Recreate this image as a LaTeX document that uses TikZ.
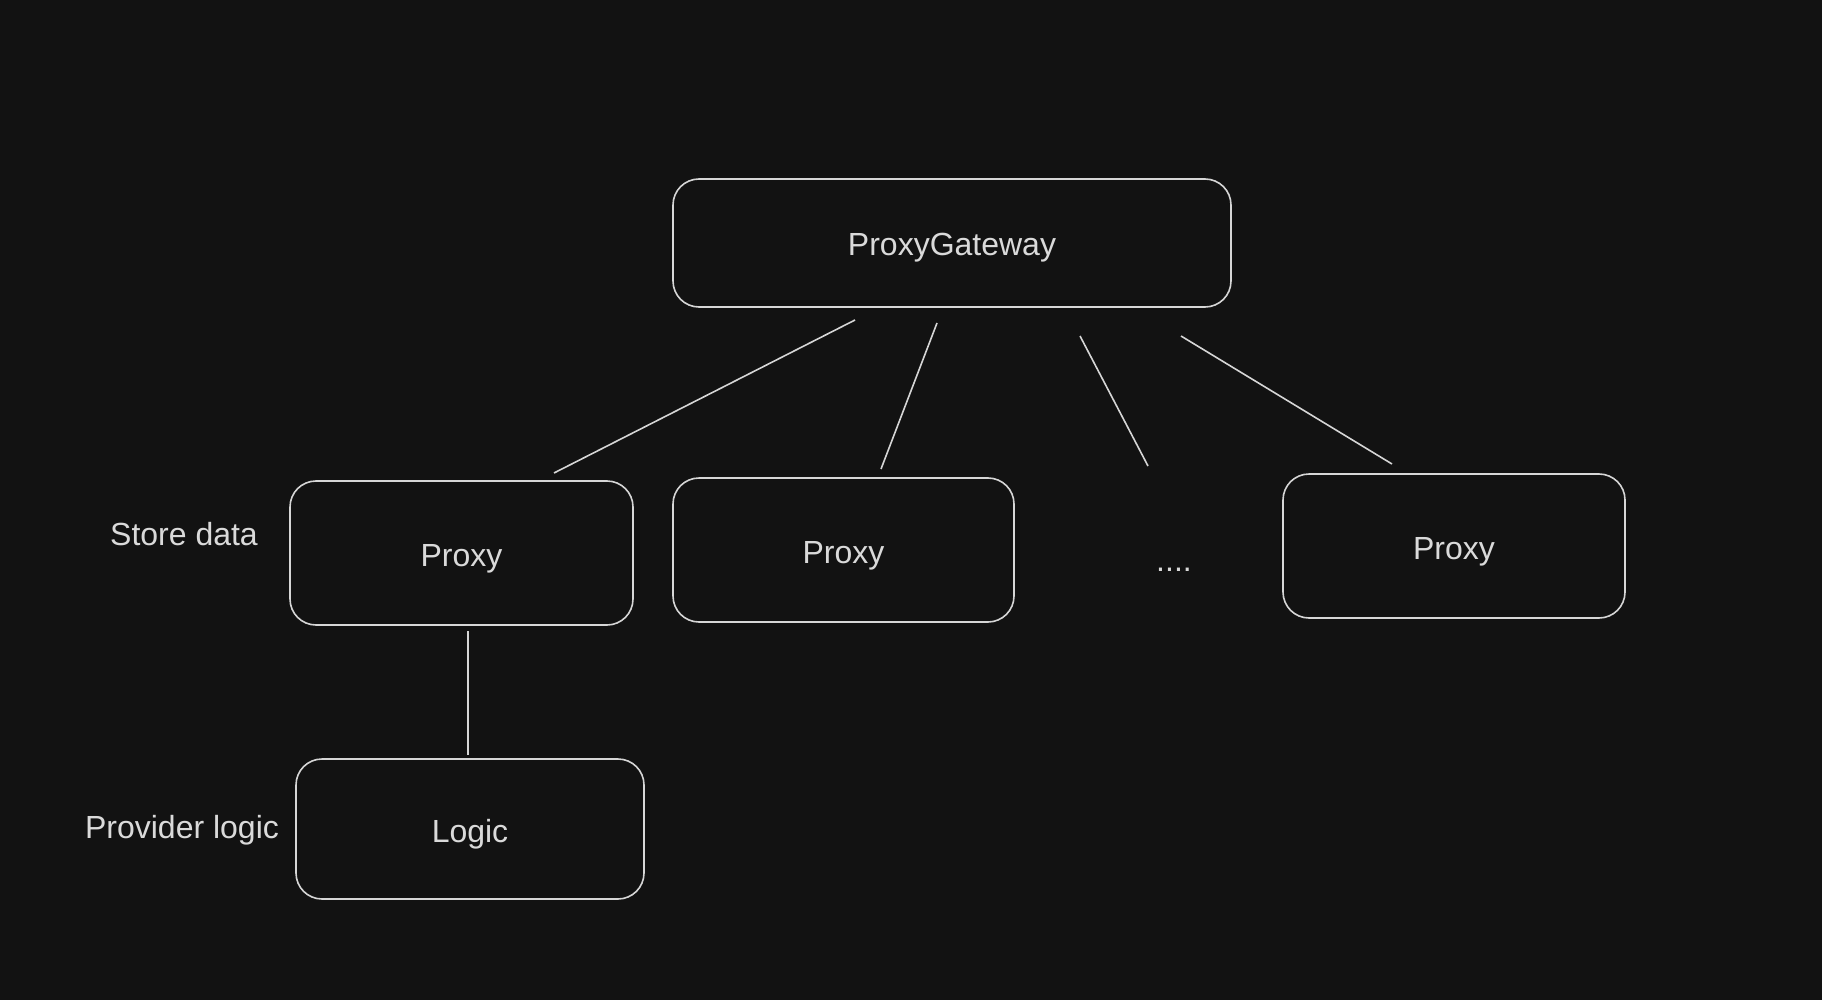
\documentclass[tikz,border=0pt]{standalone}
\usepackage{fontspec}
\setmainfont{Liberation Sans}
\definecolor{bg}{HTML}{121212}
\definecolor{fg}{HTML}{D6D6D6}
\definecolor{txt}{HTML}{DADADA}
\begin{document}
\begin{tikzpicture}[x=1pt,y=-1pt,
  box/.style={draw=fg, line width=1.6pt, rounded corners=26pt, minimum width=#1, inner sep=0pt, text=txt, font=\fontsize{32}{38}\selectfont, text height=29pt, text depth=3pt},
  lbl/.style={text=txt, font=\fontsize{32}{38}\selectfont, inner sep=0pt},
  conn/.style={draw=fg, line width=1.6pt}]
\fill[bg] (0,0) rectangle (1822,1000);
\useasboundingbox (0,0) rectangle (1822,1000);
\node[box=558pt, minimum height=128pt] (gw) at (952,243) {ProxyGateway};
\node[box=343pt, minimum height=144pt] (p1) at (461.5,553) {Proxy};
\node[box=341pt, minimum height=144pt] (p2) at (843.5,550) {Proxy};
\node[box=342pt, minimum height=144pt] (p3) at (1454,546) {Proxy};
\node[box=348pt, minimum height=140pt] (logic) at (470,829) {Logic};
\node[lbl] (dots) at (1174,570) {....};
\node[lbl] (store) at (184,534) {Store data};
\node[lbl] (prov) at (182,830) {Provider logic};
\coordinate (a1) at (855,320); \coordinate (b1) at (554,473);
\coordinate (a2) at (937,323); \coordinate (b2) at (881,469);
\coordinate (a3) at (1080,336); \coordinate (b3) at (1148,466);
\coordinate (a4) at (1181,336); \coordinate (b4) at (1392,464);
\coordinate (a5) at (468,631); \coordinate (b5) at (468,755);
\draw[conn] (a1) -- (b1);
\draw[conn] (a2) -- (b2);
\draw[conn] (a3) -- (b3);
\draw[conn] (a4) -- (b4);
\draw[conn] (a5) -- (b5);
\end{tikzpicture}
\end{document}
